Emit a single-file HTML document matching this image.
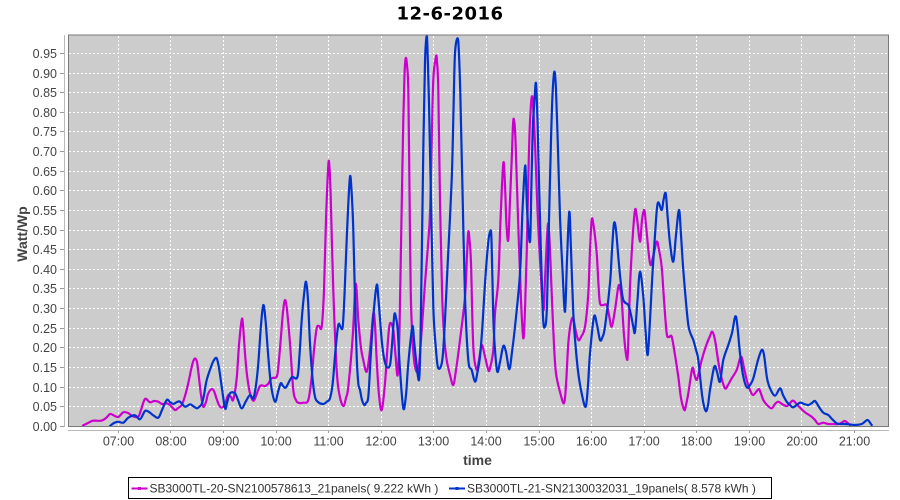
<!DOCTYPE html>
<html>
<head>
<meta charset="utf-8">
<style>
html,body{margin:0;padding:0;background:#fff;}
body{width:900px;height:500px;overflow:hidden;}
svg{display:block;}
text{font-family:"Liberation Sans","DejaVu Sans",sans-serif;}
</style>
</head>
<body>
<svg id="chart" width="900" height="500" viewBox="0 0 900 500" xmlns="http://www.w3.org/2000/svg">
<rect x="0" y="0" width="900" height="500" fill="#fff"/>
<text x="450" y="19.5" text-anchor="middle" font-size="18" font-weight="bold" letter-spacing="0.5" fill="#000" style="font-family:'DejaVu Sans','Liberation Sans',sans-serif">12-6-2016</text>

<rect x="68.5" y="35" width="820" height="391.5" fill="#cccccc"/>

<g stroke="#ffffff" stroke-width="1" stroke-dasharray="2,2" fill="none">
<line x1="69" y1="406.5" x2="888" y2="406.5"/>
<line x1="69" y1="387.5" x2="888" y2="387.5"/>
<line x1="69" y1="367.5" x2="888" y2="367.5"/>
<line x1="69" y1="347.5" x2="888" y2="347.5"/>
<line x1="69" y1="328.5" x2="888" y2="328.5"/>
<line x1="69" y1="308.5" x2="888" y2="308.5"/>
<line x1="69" y1="288.5" x2="888" y2="288.5"/>
<line x1="69" y1="269.5" x2="888" y2="269.5"/>
<line x1="69" y1="249.5" x2="888" y2="249.5"/>
<line x1="69" y1="230.5" x2="888" y2="230.5"/>
<line x1="69" y1="210.5" x2="888" y2="210.5"/>
<line x1="69" y1="190.5" x2="888" y2="190.5"/>
<line x1="69" y1="171.5" x2="888" y2="171.5"/>
<line x1="69" y1="151.5" x2="888" y2="151.5"/>
<line x1="69" y1="131.5" x2="888" y2="131.5"/>
<line x1="69" y1="112.5" x2="888" y2="112.5"/>
<line x1="69" y1="92.5" x2="888" y2="92.5"/>
<line x1="69" y1="73.5" x2="888" y2="73.5"/>
<line x1="69" y1="53.5" x2="888" y2="53.5"/>
</g>
<g stroke="#ffffff" stroke-width="1" stroke-dasharray="2,2" fill="none">
<line x1="118.5" y1="36" x2="118.5" y2="426"/>
<line x1="170.5" y1="36" x2="170.5" y2="426"/>
<line x1="223.5" y1="36" x2="223.5" y2="426"/>
<line x1="276.5" y1="36" x2="276.5" y2="426"/>
<line x1="328.5" y1="36" x2="328.5" y2="426"/>
<line x1="381.5" y1="36" x2="381.5" y2="426"/>
<line x1="433.5" y1="36" x2="433.5" y2="426"/>
<line x1="486.5" y1="36" x2="486.5" y2="426"/>
<line x1="539.5" y1="36" x2="539.5" y2="426"/>
<line x1="591.5" y1="36" x2="591.5" y2="426"/>
<line x1="644.5" y1="36" x2="644.5" y2="426"/>
<line x1="696.5" y1="36" x2="696.5" y2="426"/>
<line x1="749.5" y1="36" x2="749.5" y2="426"/>
<line x1="801.5" y1="36" x2="801.5" y2="426"/>
<line x1="854.5" y1="36" x2="854.5" y2="426"/>
</g>

<g id="series" fill="none" stroke-width="2.2" stroke-linejoin="round" stroke-linecap="round">
<polyline class="s" stroke="#cc00cc" points="83,425.5 88,423 93,420.7 101,420.7 106,418 110,414 114,415.5 118.3,417 123.3,412.3 128,413 133.3,416.5 138.3,416.7 141,410 145,399 150,402.3 154,401 158.3,401.7 162,404 166.7,403.3 170,405 175,410 178,408 181.7,405 185,396 188.3,383 191,370 193,362 195,358.5 197,362 199,378 201,395 203.3,406.7 206,402 208,394 211.5,389.2 214,391 217,400 220,406.7 223.3,406.7 226,401 228.3,395 231,397 233.3,399.5 236.7,378.3 239,345 241.7,320 243,325 245,353.3 247,375 250,393.3 253.3,400.7 256,396 260,386 265,386 268,384 271.7,378.3 276.7,376.7 278.5,365 280.7,340 283,312 285,300 287,310 290,343.3 293.3,390 296,400 298.3,402.7 303.3,402.7 308.3,400 311.7,376.7 314,350 316.7,328.3 319,326 321.7,326.7 324,290 326,220 328.3,165 329.5,168 330.7,196.7 333.3,290 336.7,370 339.5,395 343.3,406 346,398 348.3,386.7 352.7,336.7 355.7,284 358.3,320 361,348 363.3,360 366.7,371.7 370,350 373.3,313.3 375,325 376.7,360 379,395 381.7,410 385,383.3 388,340 390,323.3 393.3,330 395.5,355 397.7,375 399.5,330 400.7,263.3 402,190 403.3,120 404.5,75 405.7,58.3 407,65 408.3,90 409.5,190 410.7,290 412.5,340 415,366.7 418.3,370 421,340 425,283.3 428,245 430,213.3 431.5,150 433.3,80 436,56.7 437,62 438.3,90 440,200 442.3,300 444.5,340 446.7,360 450,375 453.3,385 456,370 460,340 465,296.7 467,255 468.3,231.7 469.5,240 471,263.3 473.3,346.7 476.7,370 479,360 481.7,345 485,356.7 488.3,370 490,368.3 493.3,350 495,313.3 498.3,280 500.5,220 503.3,163.3 505,185 506.5,225 508.3,240 510,200 511.7,160 513,125 514,120 515.5,140 518.3,226.7 521,300 523.3,338.3 525,310 526.7,253.3 528.5,170 530,121.7 532.3,96.7 535,143.3 537.5,210 540,260 543.3,310 545,280 546.7,243.3 548.3,223.3 550,250 551.7,293.3 554,345 556,373.3 560,392 564,403.3 566,385 568.3,343.3 571,322 573.3,318.3 575.5,330 578.3,340 581,337 585,326.7 588.3,293.3 590,250 591.7,220 593.5,225 596.7,253.3 598.5,285 600,303.3 603,305 606.7,305 609,315 611.7,326.7 615,310 618.3,286.7 620,288 621.7,300 624,335 626.7,358.3 628,350 630,286.7 632.5,240 635,210 637,218 640,241.7 642,220 644.3,210 646,225 650,263.3 653,257 656.7,241.7 659,250 661.7,266.7 664,300 666.7,333.3 669,337 671.7,336.7 675,355 678.3,376.7 681,398 684.3,410 686,405 688.3,393.3 692.3,368.3 694.5,375 696.7,380 699,372 701.7,360 706,346 710,336 712.3,331.7 715,340 718.3,361.7 721,376 725,388.3 728,385 731.7,378.3 736.7,370 741,356.7 744,368 746.7,380 750,390 753.3,395 758.3,389.3 760,391 763.3,400 767,405 771.7,408.3 775,404 778.3,401.7 782,404 786.7,406 790,403 793.3,400.7 798.3,406 805,412.3 811.7,416.7 815,420 818.3,424 823.3,422.7 828,424 831.7,424 838.3,424 842,422.5 845,421 850,425"/>
<polyline class="s" stroke="#0033cc" points="110,426 114,423 118.3,421.7 123.3,422.7 128.3,417.7 135,415.3 140,419.3 145,411 149,412 153.3,415.3 158.3,417.7 162,410 166.7,400 170,402 173.3,404 177,402 180,401.7 185,406.7 190,404.3 193,406 196.7,408.3 199,407 201.7,404 204,395 206.7,380 211.7,365 214,360 216.7,358.3 219,368 221.7,386.7 225,408.3 227,403 230,393.3 235,393.3 238,400 241.7,408.3 246,401 250,395 253.3,398.3 256,385 258.3,363.3 261,325 263.3,305 265.5,320 268.3,356.7 271,385 275,401.7 278,392 280.7,383.3 283,386 286,387.3 291.7,377.3 297.3,377.3 299.5,355 301.7,320 304,295 306,281.7 308,300 310,343.3 312.5,378 315,396.7 318,402 323.3,404 327,401.5 330,398.3 332.7,383.3 335.5,350 338.3,325 340.5,327 342.7,326.7 344.5,295 346,256.7 348,210 350,176.7 351.5,190 353.3,230 355,300 356.7,356.7 358.3,383.3 360,390 362,400 364.3,405 366,403 368.3,396.7 370.5,360 373.3,316.7 376.7,285 378.5,300 381.7,340 384,358 386.7,366.7 390,365 392,345 394.3,315 396,318 397.7,330 400,370 403.3,408.3 406,395 408.3,363.3 412.3,326.7 414,340 415.7,356.7 419,380 420.5,340 421.7,263.3 423.3,150 425,61.7 426.7,35.5 427.8,60 429,103.3 431,200 433.3,306.7 436,350 438.3,368.3 442.3,360 445,320 447.7,263.3 451.7,180 453.5,110 455,53.3 457.7,38.3 459,55 460.3,93.3 462.5,190 465,296.7 468.3,360 471.7,370 475,381.7 477.5,372 480,356.7 482.5,325 485,283.3 488,245 490,232 491.5,240 493.3,316.7 495,350 497.3,371.7 500,362 503.3,346 506,352 509.3,369.3 512,352 515,326.7 520,273.3 522.5,210 525,166.7 526,180 527.3,213.3 530,241.7 531.3,190 532.7,130 534.5,100 536,83.3 537.5,120 539.3,193.3 542.7,310 545,326.7 547,305 549,220 551,140 552.5,95 554.3,71.7 556,90 558,150 560,216.7 562.5,270 565,311.7 567,260 569.3,211.7 571,250 573.3,313.3 575.5,345 578.3,373.3 582,395 585.7,406.7 588,385 590,353.3 594,316.7 597,325 600,340 602.5,337 605,326.7 610,283.3 612,250 614,223.3 616,230 618.3,256.7 620.5,280 623.3,300 628.3,305 631,315 633.3,326.7 635,331.7 637.5,300 640,271.7 643.3,296.7 645.5,330 647.7,355 650,320 652.3,276.7 655,235 657.7,203.3 661.7,210 663.5,200 665.7,193.3 667.5,215 670,243.3 673.3,261.7 676,235 679,210 681,235 683.3,270 687.7,320 690,332 693.3,340 696,350 698.3,360 702.3,396.7 705.7,411 708,405 710,390 714.3,366.7 717,372 720,381.7 723.3,360 728.3,345 732,333 736,316.7 740,353.3 743,375 746.7,387.3 750,385 753.3,378.3 758,360 761.7,350 764,355 767,378 770,388.3 775,395.7 780,388.3 783,395 786.7,401.7 790,405 793.3,407.3 800,402.7 804,404 808.3,405 812,403 815,401 819,407 823.3,412.7 828.3,415 832,419 836.7,423.3 840,424 845,424 850,424.5 855,425 861.7,424 864.5,422 867.7,420 871.7,425"/>
</g>

<rect x="68.5" y="35" width="820" height="391.5" fill="none" stroke="#7a7a7a" stroke-width="1"/>

<line x1="64.5" y1="35" x2="64.5" y2="427" stroke="#b8b8b8" stroke-width="1"/>
<line x1="68" y1="430.5" x2="889" y2="430.5" stroke="#b8b8b8" stroke-width="1"/>

<g stroke="#9a9a9a" stroke-width="1">
<line x1="60" y1="426.5" x2="64" y2="426.5"/>
<line x1="60" y1="406.5" x2="64" y2="406.5"/>
<line x1="60" y1="387.5" x2="64" y2="387.5"/>
<line x1="60" y1="367.5" x2="64" y2="367.5"/>
<line x1="60" y1="347.5" x2="64" y2="347.5"/>
<line x1="60" y1="328.5" x2="64" y2="328.5"/>
<line x1="60" y1="308.5" x2="64" y2="308.5"/>
<line x1="60" y1="288.5" x2="64" y2="288.5"/>
<line x1="60" y1="269.5" x2="64" y2="269.5"/>
<line x1="60" y1="249.5" x2="64" y2="249.5"/>
<line x1="60" y1="230.5" x2="64" y2="230.5"/>
<line x1="60" y1="210.5" x2="64" y2="210.5"/>
<line x1="60" y1="190.5" x2="64" y2="190.5"/>
<line x1="60" y1="171.5" x2="64" y2="171.5"/>
<line x1="60" y1="151.5" x2="64" y2="151.5"/>
<line x1="60" y1="131.5" x2="64" y2="131.5"/>
<line x1="60" y1="112.5" x2="64" y2="112.5"/>
<line x1="60" y1="92.5" x2="64" y2="92.5"/>
<line x1="60" y1="73.5" x2="64" y2="73.5"/>
<line x1="60" y1="53.5" x2="64" y2="53.5"/>
</g>
<g font-size="12.5" fill="#444" text-anchor="end">
<text x="57" y="431">0.00</text>
<text x="57" y="411">0.05</text>
<text x="57" y="392">0.10</text>
<text x="57" y="372">0.15</text>
<text x="57" y="352">0.20</text>
<text x="57" y="333">0.25</text>
<text x="57" y="313">0.30</text>
<text x="57" y="293">0.35</text>
<text x="57" y="274">0.40</text>
<text x="57" y="254">0.45</text>
<text x="57" y="235">0.50</text>
<text x="57" y="215">0.55</text>
<text x="57" y="195">0.60</text>
<text x="57" y="176">0.65</text>
<text x="57" y="156">0.70</text>
<text x="57" y="136">0.75</text>
<text x="57" y="117">0.80</text>
<text x="57" y="97">0.85</text>
<text x="57" y="78">0.90</text>
<text x="57" y="58">0.95</text>
</g>

<g stroke="#9a9a9a" stroke-width="1">
<line x1="118.5" y1="431" x2="118.5" y2="433"/>
<line x1="170.5" y1="431" x2="170.5" y2="433"/>
<line x1="223.5" y1="431" x2="223.5" y2="433"/>
<line x1="276.5" y1="431" x2="276.5" y2="433"/>
<line x1="328.5" y1="431" x2="328.5" y2="433"/>
<line x1="381.5" y1="431" x2="381.5" y2="433"/>
<line x1="433.5" y1="431" x2="433.5" y2="433"/>
<line x1="486.5" y1="431" x2="486.5" y2="433"/>
<line x1="539.5" y1="431" x2="539.5" y2="433"/>
<line x1="591.5" y1="431" x2="591.5" y2="433"/>
<line x1="644.5" y1="431" x2="644.5" y2="433"/>
<line x1="696.5" y1="431" x2="696.5" y2="433"/>
<line x1="749.5" y1="431" x2="749.5" y2="433"/>
<line x1="801.5" y1="431" x2="801.5" y2="433"/>
<line x1="854.5" y1="431" x2="854.5" y2="433"/>
</g>
<g font-size="12.5" fill="#444" text-anchor="middle">
<text x="118.5" y="445.5">07:00</text>
<text x="171" y="445.5">08:00</text>
<text x="223.5" y="445.5">09:00</text>
<text x="276" y="445.5">10:00</text>
<text x="328.5" y="445.5">11:00</text>
<text x="381" y="445.5">12:00</text>
<text x="433.5" y="445.5">13:00</text>
<text x="486" y="445.5">14:00</text>
<text x="539" y="445.5">15:00</text>
<text x="591.5" y="445.5">16:00</text>
<text x="644" y="445.5">17:00</text>
<text x="696.5" y="445.5">18:00</text>
<text x="749.5" y="445.5">19:00</text>
<text x="802" y="445.5">20:00</text>
<text x="854.5" y="445.5">21:00</text>
</g>

<text x="477.5" y="465" text-anchor="middle" font-size="14" font-weight="bold" fill="#444">time</text>
<text x="27" y="234" text-anchor="middle" font-size="14" font-weight="bold" fill="#444" transform="rotate(-90 27 234)">Watt/Wp</text>

<rect x="128.5" y="477.5" width="643" height="21" fill="#fff" stroke="#000" stroke-width="1"/>
<line x1="131.5" y1="488.5" x2="147.5" y2="488.5" stroke="#cc00cc" stroke-width="2"/>
<rect x="138" y="487" width="3" height="3" fill="#cc00cc"/>
<text x="149.5" y="492.5" font-size="12" fill="#333">SB3000TL-20-SN2100578613_21panels( 9.222 kWh )</text>
<line x1="449" y1="488.5" x2="465" y2="488.5" stroke="#0033cc" stroke-width="2"/>
<rect x="455.5" y="487" width="3" height="3" fill="#0033cc"/>
<text x="467" y="492.5" font-size="12" fill="#333">SB3000TL-21-SN2130032031_19panels( 8.578 kWh )</text>
</svg>
<script>
(function(){
  try{
    var ns="http://www.w3.org/2000/svg";
    var pls=document.querySelectorAll("polyline.s");
    for(var k=0;k<pls.length;k++){
      var pl=pls[k];
      var raw=pl.getAttribute("points").trim().split(/\s+/);
      var p=[];
      for(var i=0;i<raw.length;i++){var c=raw[i].split(",");p.push([parseFloat(c[0]),parseFloat(c[1])]);}
      if(p.length<3)continue;
      var d="M"+p[0][0]+","+p[0][1];
      for(var i=0;i<p.length-1;i++){
        var p0=p[i>0?i-1:0],p1=p[i],p2=p[i+1],p3=p[i+2<p.length?i+2:p.length-1];
        var c1x=p1[0]+(p2[0]-p0[0])/6,c1y=p1[1]+(p2[1]-p0[1])/6;
        var c2x=p2[0]-(p3[0]-p1[0])/6,c2y=p2[1]-(p3[1]-p1[1])/6;
        d+=" C"+c1x.toFixed(2)+","+c1y.toFixed(2)+" "+c2x.toFixed(2)+","+c2y.toFixed(2)+" "+p2[0]+","+p2[1];
      }
      var path=document.createElementNS(ns,"path");
      path.setAttribute("d",d);
      path.setAttribute("stroke",pl.getAttribute("stroke"));
      path.setAttribute("fill","none");
      pl.parentNode.replaceChild(path,pl);
    }
  }catch(e){}
})();
</script>
</body>
</html>
